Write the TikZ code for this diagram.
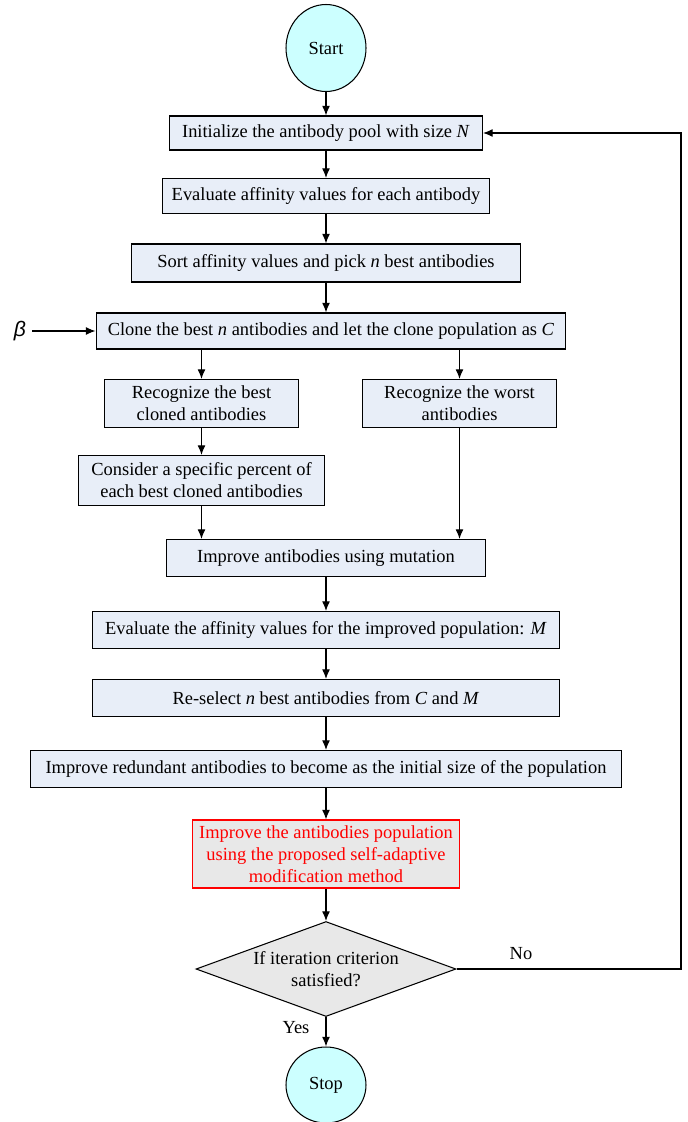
\documentclass[tikz,border=0pt]{standalone}
\usepackage{fontspec}
\setmainfont{Liberation Serif}
\newfontfamily\betafont{Liberation Sans}
\usetikzlibrary{shapes.geometric,arrows.meta}

\definecolor{boxfill}{RGB}{232,238,248}
\definecolor{termfill}{RGB}{204,255,255}
\definecolor{grayfill}{RGB}{232,232,232}

\begin{document}
\begin{tikzpicture}[x=0.02cm, y=-0.02cm, line width=0.6pt,
	font=\fontsize{10.5}{12.5}\selectfont,
	>={Latex[length=5.5pt,width=4.5pt]},
	stepbox/.style={shape=rectangle, draw=black, fill=boxfill, align=center, inner sep=0pt},
	endcap/.style={shape=ellipse, draw=black, fill=termfill, inner sep=0pt, minimum width=1.6cm, minimum height=1.74cm},
	redbox/.style={stepbox, draw=red, fill=grayfill, text=red},
	testbox/.style={shape=diamond, draw=black, fill=grayfill, aspect=2.7, inner sep=0pt, align=center, minimum width=5.2cm, minimum height=1.9cm}]
	
	\useasboundingbox (0, 0) rectangle (688, 1122);
	
	\node[endcap] (start) at (326, 48) {Start};
	
	\node[stepbox, minimum width=6.26cm, minimum height=0.68cm] (init) at (326, 133) {Initialize the antibody pool with size \textit{N}};
	\node[stepbox, minimum width=6.54cm, minimum height=0.70cm] (eval) at (326, 196) {Evaluate affinity values for each antibody};
	\node[stepbox, minimum width=7.8cm, minimum height=0.76cm] (sort) at (326, 263) {Sort affinity values and pick \textit{n} best antibodies};
	\node[stepbox, minimum width=9.4cm, minimum height=0.72cm] (clone) at (331, 331) {Clone the best \textit{n} antibodies and let the clone population as \textit{C}};
	
	\node[font=\betafont\itshape\fontsize{12}{14}\selectfont] (beta) at (20, 331) {β};
	
	\node[stepbox, minimum width=3.88cm, minimum height=0.96cm] (best) at (201.5, 403.5) {Recognize the best\\cloned antibodies};
	\node[stepbox, minimum width=3.88cm, minimum height=0.96cm] (worst) at (459.5, 403.5) {Recognize the worst\\antibodies};
	\node[stepbox, minimum width=4.92cm, minimum height=1.0cm] (pct) at (201.5, 480.5) {Consider a specific percent of\\each best cloned antibodies};
	
	\node[stepbox, minimum width=6.38cm, minimum height=0.74cm] (mutate) at (326, 558) {Improve antibodies using mutation};
	\node[stepbox, minimum width=9.36cm, minimum height=0.74cm] (evalm) at (326, 630) {Evaluate the affinity values for the improved population: \textit{M}};
	\node[stepbox, minimum width=9.36cm, minimum height=0.74cm] (resel) at (326, 698) {Re-select \textit{n} best antibodies from \textit{C} and \textit{M}};
	\node[stepbox, minimum width=11.84cm, minimum height=0.74cm] (redund) at (326, 769) {Improve redundant antibodies to become as the initial size of the population};
	
	\node[redbox, minimum width=5.34cm, minimum height=1.36cm] (adapt) at (326, 854) {Improve the antibodies population\\using the proposed self-adaptive\\modification method};
	
	\node[testbox] (check) at (326, 969) {If iteration criterion\\satisfied?};
	
	\node[endcap, minimum height=1.52cm] (stop) at (326, 1085) {Stop};
	
	\node (yes) at (296, 1028) {Yes};
	\node (no) at (521, 954) {No};
	
	\coordinate (loop) at (681, 500);
	
	
	\path[->] (start) edge (init);
	\path[->] (init) edge (eval);
	\path[->] (eval) edge (sort);
	\path[->] (sort) edge (sort |- clone.north);
	\path[->] (beta) edge (clone);
	
	\draw[->] (best |- clone.south) -- (best);
	\draw[->] (worst |- clone.south) -- (worst);
	\path[->] (best) edge (pct);
	\draw[->] (pct) -- (pct |- mutate.north);
	\draw[->] (worst) -- (worst |- mutate.north);
	
	\path[->] (mutate) edge (evalm);
	\path[->] (evalm) edge (resel);
	\path[->] (resel) edge (redund);
	\path[->] (redund) edge (adapt);
	\path[->] (adapt) edge (check);
	\path[->] (check) edge (stop);
	
	\draw[->] (check) -| (loop) |- (init);
	
\end{tikzpicture}
\end{document}
